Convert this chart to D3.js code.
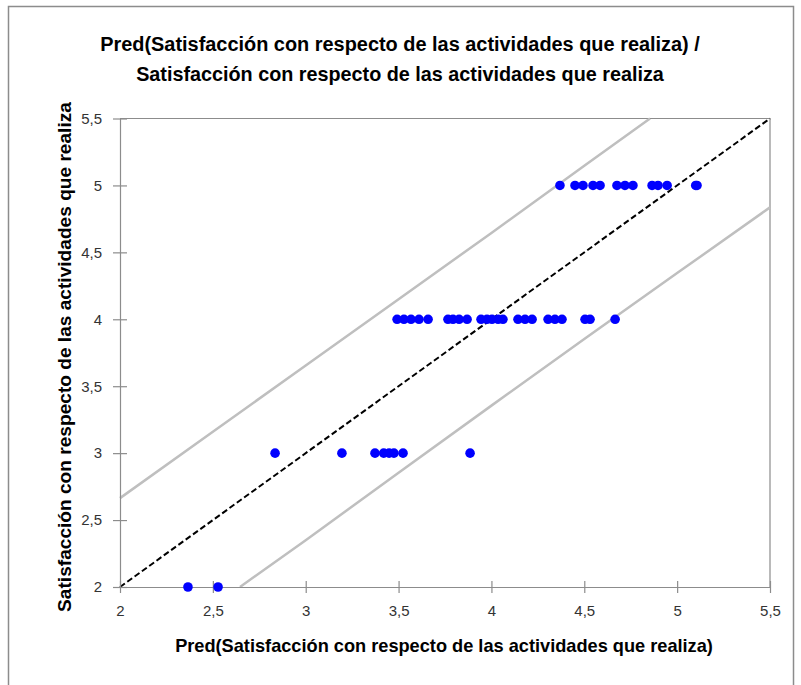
<!DOCTYPE html>
<html><head><meta charset="utf-8">
<script src="https://cdn.jsdelivr.net/npm/d3@7"></script>
<style>body{margin:0;background:#fff}svg{display:block}</style>
</head><body><svg id="c" width="801" height="685"></svg>
<script>
// Observed values (y) and predictions (x)
const obsValues = [2,2, 3,3,3,3,3,3,3,3,
  4,4,4,4,4,4,4,4,4,4,4,4,4,4,4,4,4,4,4,4,4,4,4,
  5,5,5,5,5,5,5,5,5,5,5,5,5];
const predValues = [2.366,2.528, 2.835,3.195,3.373,3.42,3.449,3.475,3.524,3.885,
  3.492,3.529,3.567,3.610,3.659,3.766,3.793,3.826,3.869,3.944,3.976,4.003,4.036,4.062,4.143,4.181,4.219,4.305,4.342,4.380,4.504,4.531,4.666,
  4.369,4.450,4.493,4.547,4.585,4.676,4.719,4.762,4.865,4.897,4.946,5.100,5.107];
// Confidence band lines
const upperX = [2,2.5,3,3.5,4,4.5,4.854];
const upperY = [2.664,3.160,3.655,4.150,4.645,5.147,5.5];
const lowerX = [2.646,3,3.5,4,4.5,5,5.5];
const lowerY = [2,2.350,2.853,3.355,3.853,4.345,4.836];
const tickValues = [2,2.5,3,3.5,4,4.5,5,5.5];
const tickLabels = ["2","2,5","3","3,5","4","4,5","5","5,5"];
const titleLines = ["Pred(Satisfacción con respecto de las actividades que realiza) /","Satisfacción con respecto de las actividades que realiza"];
const xTitle = "Pred(Satisfacción con respecto de las actividades que realiza)";
const yTitle = "Satisfacción con respecto de las actividades que realiza";

const svg = d3.select("#c");
const L=120,R=770,T=118.5,B=587;
const x = d3.scaleLinear().domain([2,5.5]).range([L,R]);
const y = d3.scaleLinear().domain([2,5.5]).range([B,T]);
const font = "'Liberation Sans', Arial, sans-serif";

svg.append("rect").attr("x",8.5).attr("y",6.5).attr("width",785).attr("height",690)
  .attr("fill","#fff").attr("stroke","#8c8c8c").attr("stroke-width",1.5);

function fit(t, w){ const n=t.node(); const cur=n.getComputedTextLength(); const fs=parseFloat(t.attr("font-size")); t.attr("font-size", fs*w/cur); }

titleLines.forEach((s,i)=>{
  const t = svg.append("text").attr("x",400).attr("y",[51,81][i]).attr("text-anchor","middle")
    .attr("font-family",font).attr("font-weight","bold").attr("font-size",18).attr("fill","#000").text(s);
  fit(t, i==0?600:528);
});

// frame
svg.append("path").attr("d",`M${L},${T}H${R}V${B}`).attr("fill","none").attr("stroke","#8c8c8c").attr("stroke-width",1.2);

const g = svg.append("g");
// band lines
const line = d3.line().x(d=>x(d[0])).y(d=>y(d[1]));
g.append("path").datum(d3.zip(upperX,upperY)).attr("d",line).attr("fill","none").attr("stroke","#bfbfbf").attr("stroke-width",2.5);
g.append("path").datum(d3.zip(lowerX,lowerY)).attr("d",line).attr("fill","none").attr("stroke","#bfbfbf").attr("stroke-width",2.5);

// axes
const xAxis = d3.axisBottom(x).tickValues(tickValues).tickFormat((d,i)=>tickLabels[i]).tickSizeInner(6).tickSizeOuter(0).tickPadding(12);
const yAxis = d3.axisLeft(y).tickValues(tickValues).tickFormat((d,i)=>tickLabels[i]).tickSizeInner(7).tickSizeOuter(0).tickPadding(11);
const xa = svg.append("g").attr("transform",`translate(0,${B})`).call(xAxis);
const ya = svg.append("g").attr("transform",`translate(${L},0)`).call(yAxis);
[xa,ya].forEach(a=>{
  a.select(".domain").attr("stroke","#8c8c8c").attr("stroke-width",1.2);
  a.selectAll(".tick line").attr("stroke","#8c8c8c").attr("stroke-width",1.2);
  a.selectAll(".tick text").attr("font-family",font).attr("font-size",15).attr("fill","#333");
});
xa.selectAll(".tick line").attr("y1",-6);
ya.selectAll(".tick line").attr("x2",7).attr("x1",-7);

// identity dashed line
g.append("line").attr("x1",x(2)).attr("y1",y(2)).attr("x2",x(5.5)).attr("y2",y(5.5))
  .attr("stroke","#000").attr("stroke-width",2).attr("stroke-dasharray","6,3");

// points
svg.append("g").selectAll("circle").data(d3.zip(predValues,obsValues)).join("circle")
  .attr("cx",d=>x(d[0])).attr("cy",d=>y(d[1])).attr("r",4.8).attr("fill","#0000ff");

// axis titles
const xt = svg.append("text").attr("x",444).attr("y",652).attr("text-anchor","middle")
  .attr("font-family",font).attr("font-weight","bold").attr("font-size",16).text(xTitle);
fit(xt,538);
const yt = svg.append("text").attr("transform","translate(71,357) rotate(-90)").attr("text-anchor","middle")
  .attr("font-family",font).attr("font-weight","bold").attr("font-size",16).text(yTitle);
fit(yt,510);
</script></body></html>
